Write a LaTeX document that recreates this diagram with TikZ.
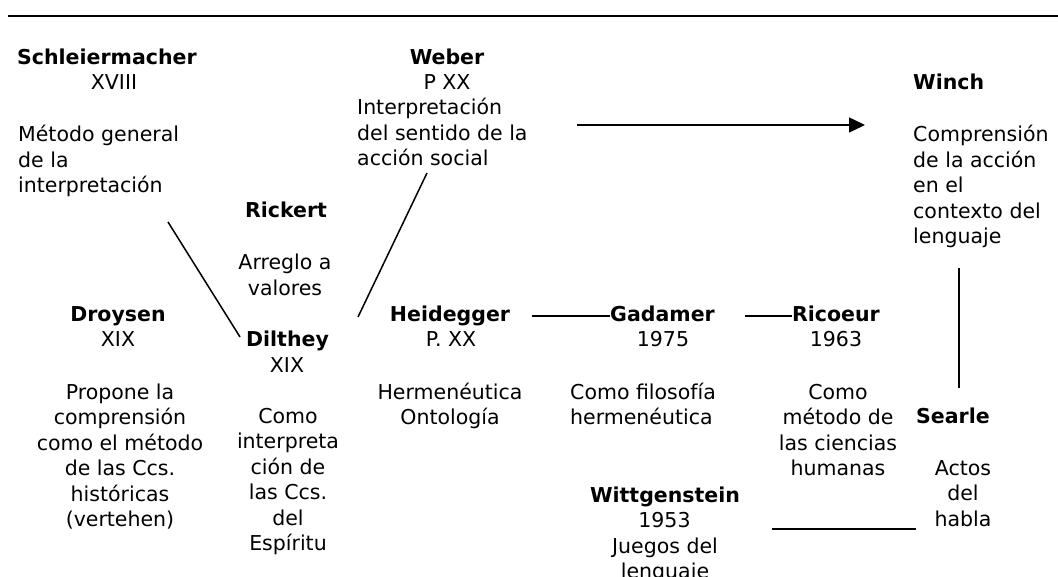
\documentclass[tikz,border=0pt]{standalone}
\usepackage{fontspec}
\setmainfont{DejaVu Sans}
\usetikzlibrary{arrows.meta,calc}
\newcommand\txtsize{\fontsize{20.5}{25.5}\selectfont}
\tikzset{
  every node/.style={inner sep=0pt, font=\txtsize},
  nm/.style={font=\txtsize\bfseries, anchor=base},
  tx/.style={anchor=base, align=center},
  txl/.style={anchor=base west, align=left},
  ln/.style={line width=1.5pt},
}
\begin{document}
\begin{tikzpicture}[x=1pt,y=-1pt]
\useasboundingbox (0,0) rectangle (1058,577);
% top rule
\coordinate (r1) at (8,16);
\coordinate (r2) at (1058,16);
\draw[line width=1.8pt] (r1) -- (r2);

% Schleiermacher
\node[nm, anchor=base west] (schl) at (17,65) {Schleiermacher};
\node[tx] (schld) at (114,90) {XVIII};
\node[txl] (schlt) at (18,193) {Método general\\de la\\interpretación};

% Weber
\node[nm] (web) at (447,65) {Weber};
\node[tx] (webd) at (447,90) {P XX};
\node[txl] (webt) at (357,166) {Interpretación\\del sentido de la\\acción social};

% Rickert
\node[nm] (rick) at (286,218) {Rickert};
\node[tx] (rickt) at (285,295.5) {Arreglo a\\valores};

% Droysen
\node[nm] (droy) at (118,322) {Droysen};
\node[tx] (droyd) at (118,347) {XIX};
\node[tx] (droyt) at (120,526.5) {Propone la\\comprensión\\como el método\\de las Ccs.\\históricas\\(vertehen)};

% Dilthey
\node[nm] (dil) at (287.5,347) {Dilthey};
\node[tx] (dild) at (287,373) {XIX};
\node[tx] (dilt) at (288,550.5) {Como\\interpreta\\ción de\\las Ccs.\\del\\Espíritu};

% Heidegger
\node[nm] (heid) at (450,322) {Heidegger};
\node[tx] (heidd) at (451,347) {P. XX};
\node[tx] (heidt) at (450,424.5) {Hermenéutica\\Ontología};

% Gadamer
\node[nm] (gad) at (662.5,322) {Gadamer};
\node[tx] (gadd) at (663,347) {1975};
\node[txl] (gadt) at (570,424.5) {Como filosofía\\hermenéutica};

% Ricoeur
\node[nm] (ric) at (836,322) {Ricoeur};
\node[tx] (ricd) at (836,347) {1963};
\node[tx] (rict) at (838,475.5) {Como\\método de\\las ciencias\\humanas};

% Winch
\node[nm, anchor=base west] (winch) at (913,90) {Winch};
\node[txl] (wincht) at (913,244) {Comprensión\\de la acción\\en el\\contexto del\\lenguaje};

% Searle
\node[nm, anchor=base west] (searle) at (916,423) {Searle};
\node[tx] (searlet) at (963,526) {Actos\\del\\habla};

% Wittgenstein
\node[nm] (witt) at (665,502) {Wittgenstein};
\node[tx] (wittd) at (664.5,527) {1953};
\node[tx] (wittt) at (665,578.5) {Juegos del\\lenguaje};

% connectors
\coordinate (sd1) at (168,222);
\coordinate (sd2) at (240,337);
\draw[ln] (sd1) -- (sd2);
\coordinate (wd1) at (427,173);
\coordinate (wd2) at (358,317);
\draw[ln] (wd1) -- (wd2);
\coordinate (ww1) at (577,125);
\coordinate (ww2) at (865,125);
\draw[ln, -{Triangle[length=16pt,width=15pt]}] (ww1) -- (ww2);
\coordinate (hg) at (532,316);
\draw[ln] (hg) -- (hg -| gad.west);
\coordinate (gr) at (745,316);
\draw[ln] (gr) -- (gr -| ric.west);
\coordinate (ws1) at (959,268);
\coordinate (ws2) at (959,388);
\draw[ln] (ws1) -- (ws2);
\coordinate (bl) at (772,529);
\draw[ln] (bl) -- (bl -| searle.west);
\end{tikzpicture}
\end{document}
